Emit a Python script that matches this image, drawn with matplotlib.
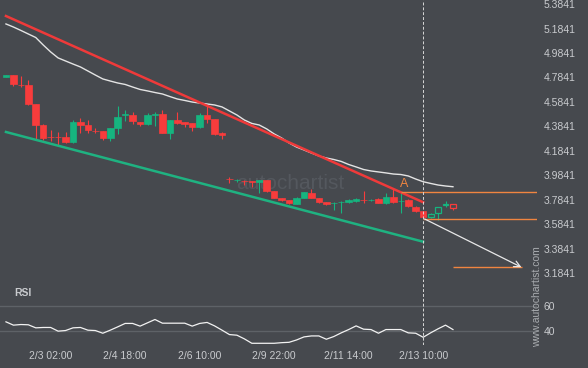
import numpy as np
import matplotlib
matplotlib.use("Agg")
import matplotlib.pyplot as plt

# 4h candles
opens = [4.788, 4.804, 4.725, 4.723, 4.567, 4.395, 4.297, 4.297, 4.301, 4.256,
         4.420, 4.395, 4.348, 4.346, 4.289, 4.371, 4.475, 4.477, 4.420, 4.403,
         4.477, 4.487, 4.330, 4.436, 4.420, 4.409, 4.379, 4.477, 4.444, 4.330,
         3.955, 3.945, 3.937, 3.935, 3.925, 3.945, 3.855, 3.800, 3.782, 3.749,
         3.798, 3.839, 3.798, 3.765, 3.755, 3.761, 3.765, 3.770, 3.784, 3.780,
         3.790, 3.753, 3.806, 3.771, 3.782, 3.726, 3.688, 3.642, 3.675, 3.741,
         3.745]
highs = [4.808, 4.808, 4.796, 4.764, 4.567, 4.403, 4.354, 4.338, 4.338, 4.436,
         4.453, 4.436, 4.371, 4.346, 4.371, 4.551, 4.518, 4.498, 4.420, 4.493,
         4.498, 4.518, 4.436, 4.502, 4.420, 4.409, 4.493, 4.551, 4.444, 4.338,
         3.970, 3.955, 3.945, 3.937, 3.945, 3.945, 3.855, 3.800, 3.782, 3.806,
         3.847, 3.872, 3.798, 3.765, 3.765, 3.770, 3.786, 3.795, 3.851, 3.790,
         3.795, 3.839, 3.870, 3.843, 3.790, 3.730, 3.692, 3.675, 3.728, 3.770,
         3.745]
lows = [4.785, 4.714, 4.706, 4.559, 4.281, 4.272, 4.264, 4.231, 4.248, 4.248,
        4.330, 4.330, 4.330, 4.270, 4.264, 4.322, 4.428, 4.403, 4.383, 4.395,
        4.383, 4.330, 4.281, 4.403, 4.379, 4.346, 4.371, 4.412, 4.313, 4.281,
        3.921, 3.929, 3.904, 3.888, 3.839, 3.850, 3.795, 3.776, 3.745, 3.745,
        3.795, 3.795, 3.757, 3.741, 3.700, 3.675, 3.757, 3.765, 3.757, 3.773,
        3.753, 3.745, 3.757, 3.675, 3.728, 3.683, 3.640, 3.638, 3.618, 3.724,
        3.700]
closes = [4.804, 4.731, 4.723, 4.567, 4.395, 4.289, 4.293, 4.293, 4.256, 4.420,
          4.395, 4.354, 4.346, 4.289, 4.371, 4.461, 4.487, 4.428, 4.400, 4.477,
          4.487, 4.330, 4.436, 4.409, 4.406, 4.375, 4.477, 4.444, 4.322, 4.313,
          3.951, 3.949, 3.933, 3.929, 3.945, 3.858, 3.800, 3.782, 3.755, 3.800,
          3.843, 3.798, 3.765, 3.745, 3.759, 3.765, 3.782, 3.790, 3.780, 3.784,
          3.757, 3.806, 3.765, 3.776, 3.732, 3.688, 3.645, 3.670, 3.724, 3.745,
          3.716]
ma = [5.222, 5.197, 5.169, 5.140, 5.111, 5.050, 4.993, 4.944, 4.919, 4.894,
      4.870, 4.837, 4.804, 4.772, 4.755, 4.739, 4.727, 4.706, 4.686, 4.674,
      4.661, 4.649, 4.628, 4.608, 4.596, 4.583, 4.575, 4.567, 4.559, 4.543,
      4.510, 4.477, 4.436, 4.408, 4.395, 4.363, 4.322, 4.289, 4.248, 4.215,
      4.191, 4.166, 4.142, 4.125, 4.113, 4.097, 4.072, 4.052, 4.031, 4.019,
      4.011, 4.003, 3.994, 3.990, 3.978, 3.953, 3.931, 3.917, 3.904, 3.896,
      3.890]
rsi = [47.1, 44.4, 44.9, 44.7, 42.2, 42.5, 42.5, 39.5, 40.0, 42.2,
       42.5, 40.3, 40.0, 37.8, 40.3, 43.0, 45.8, 45.8, 43.6, 46.3,
       49.0, 46.0, 46.0, 46.0, 46.0, 43.6, 45.8, 46.6, 43.8, 40.3,
       36.7, 36.2, 33.2, 29.6, 29.6, 29.6, 29.6, 30.1, 30.4, 32.3,
       34.8, 35.6, 35.6, 32.9, 35.1, 38.1, 40.8, 43.8, 41.1, 40.8,
       37.8, 40.8, 40.8, 40.8, 38.1, 37.8, 34.5, 38.1, 41.4, 44.4,
       40.8]

tick_idx = [6, 16, 26, 36, 46, 56]
tick_labels = ["2/3 02:00", "2/4 18:00", "2/6 10:00", "2/9 22:00", "2/11 14:00", "2/13 10:00"]
price_ticks = [5.3841, 5.1841, 4.9841, 4.7841, 4.5841, 4.3841, 4.1841, 3.9841, 3.7841, 3.5841, 3.3841, 3.1841]
rsi_ticks = [60, 40]

# pattern lines (start/end candle index and price)
resist = ([0, 56], [5.287, 3.763])
support = ([0, 56], [4.338, 3.440])
level_a = 3.844
level_now = 3.626
target = 3.231
a_start, now_idx, target_end = 53, 56, 69.2

bg = "#46494e"
red = "#f83c3c"
green = "#16b47f"
orange = "#f08540"
txt = "#c9cbce"

plt.rcParams['font.family'] = ['Liberation Sans', 'DejaVu Sans']

W, H = 588, 368
fig = plt.figure(figsize=(W / 100, H / 100), dpi=100, facecolor=bg)
ax = fig.add_axes([0, 1 - 282 / H, 537 / W, 282 / H], facecolor=bg)
ax2 = fig.add_axes([0, 1 - 345 / H, 537 / W, 63 / H], facecolor=bg)

x = np.arange(len(opens))
xlim = (-0.8, 71.28)

# candles
hollow_from = now_idx + 1
for i in x:
    o, h, l, c = opens[i], highs[i], lows[i], closes[i]
    col = green if c >= o else red
    ax.vlines(i, l, h, color=col, lw=0.8, zorder=3)
    lo, hgt = min(o, c), max(abs(c - o), 0.002)
    if i >= hollow_from:
        ax.bar(i, hgt, 0.8, lo, facecolor=bg, edgecolor=col, lw=0.9, zorder=4)
    else:
        ax.bar(i, hgt, 0.88, lo, color=col, edgecolor=col, lw=0.5, zorder=4)

ax.plot(x, ma, color="#e4e4e4", lw=1.0, zorder=2)
ax.plot(*resist, color="#ef3a3a", lw=1.8, zorder=5)
ax.plot(*support, color="#1fb281", lw=1.8, zorder=5)

ax.hlines(level_a, a_start, xlim[1], color=orange, lw=1.0, zorder=5)
ax.hlines(level_now, now_idx, xlim[1], color=orange, lw=1.0, zorder=5)
ax.hlines(target, x[-1], target_end, color=orange, lw=1.0, zorder=5)
ax.text(a_start + 0.4, level_a + 0.018, "A", color=orange, fontsize=9,
        ha="center", va="bottom", zorder=6)
ax.annotate("", xy=(target_end, target), xytext=(now_idx + 0.2, level_now),
            arrowprops=dict(arrowstyle="->", color="#e8e8e8", lw=0.9,
                            mutation_scale=11, shrinkA=0, shrinkB=0), zorder=6)

ax.text(0.54, 0.348, "autochartist", transform=ax.transAxes, color="#54585e",
        fontsize=15, ha="center", va="center", zorder=1)

for a in (ax, ax2):
    a.axvline(now_idx, color="#d8d8d8", lw=0.7, ls=(0, (3, 2)), zorder=7)
    a.set_xlim(*xlim)
    for s in a.spines.values():
        s.set_visible(False)

ax.set_ylim(3.1104, 5.418)
ax.set_yticks(price_ticks)
ax.set_yticklabels(["%.4f" % p for p in price_ticks])
ax.yaxis.tick_right()
ax.tick_params(axis="y", length=0, pad=5, labelsize=7.5, labelcolor=txt)
ax.set_xticks([])

# RSI panel
ax2.plot(x, rsi, color="#f2f2f2", lw=0.9, zorder=3)
for r in rsi_ticks:
    ax2.axhline(r, color="#5e6267", lw=1.0, zorder=1)
ax2.set_ylim(28.2, 79.6)
ax2.set_yticks(rsi_ticks)
ax2.yaxis.tick_right()
ax2.tick_params(axis="y", length=0, pad=5, labelsize=7.5, labelcolor=txt)
ax2.set_xticks(tick_idx)
ax2.set_xticklabels(tick_labels)
ax2.tick_params(axis="x", length=0, pad=4, labelsize=7.5, labelcolor=txt)
ax2.text(14 / 537, 0.82, "RSI", transform=ax2.transAxes, color=txt,
         fontsize=7.5, fontweight="bold", ha="left", va="center")

fig.text(537 / W, 1 - 297 / H, "www.autochartist.com", rotation=90,
         color="#a9acb0", fontsize=7.5, ha="center", va="center")

fig.savefig("out.png", dpi=100, facecolor=bg)
